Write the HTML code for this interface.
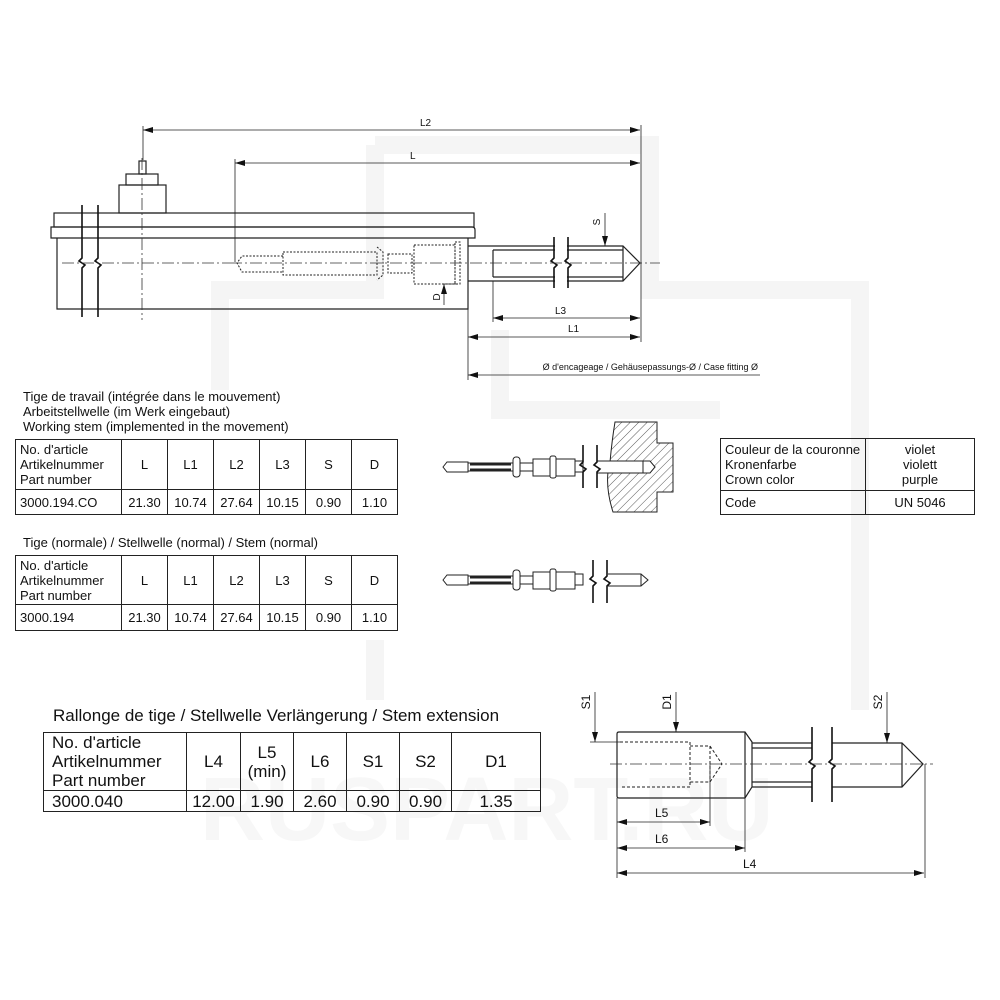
<!DOCTYPE html>
<html><head><meta charset="utf-8"><style>
body{margin:0;width:1000px;height:1000px;background:#fff;position:relative;overflow:hidden;font-family:"Liberation Sans",Arial,sans-serif;color:#111}
.t{position:absolute;font-size:13px;line-height:15px;white-space:nowrap}
table{position:absolute;border-collapse:collapse;font-size:13px}
td{border:1.5px solid #222;padding:0;text-align:center;line-height:15px}
td.l{text-align:left;padding-left:4px}
.big{font-size:17px}
.big td{line-height:19px}
</style></head><body>
<svg width="1000" height="1000" style="position:absolute;left:0;top:0">
<defs>
<marker id="a" viewBox="0 0 10 6" refX="10" refY="3" markerWidth="10" markerHeight="6" orient="auto-start-reverse" markerUnits="userSpaceOnUse"><path d="M0,0L10,3L0,6z" fill="#111"/></marker>
<pattern id="h" width="6" height="6" patternUnits="userSpaceOnUse" patternTransform="rotate(45)"><line x1="0" y1="0" x2="0" y2="6" stroke="#333" stroke-width="0.8"/></pattern>
</defs>
<!-- watermark -->
<g fill="none" stroke="#f5f5f5" stroke-width="18">
<path d="M375,145 V290 H220 V390"/><path d="M375,145 H650 V290 H860 V710"/><path d="M500,330 V410 H720"/><path d="M375,640 V700"/>
</g>
<text x="200" y="840" font-size="90" font-weight="bold" fill="#f7f7f7" font-family="Liberation Sans">RUSPART.RU</text>
<g stroke="#222" stroke-width="1.2" fill="none">
<rect x="139" y="161" width="7" height="13"/>
<rect x="126" y="174" width="32" height="11"/>
<rect x="119" y="185" width="47" height="28"/>
<rect x="54" y="213" width="420" height="14"/>
<path d="M51,227 H472 Q475,227 475,230 V238 H51 Z"/>
<path d="M57,238 V309 H468 V238"/>
<line x1="493" y1="250" x2="493" y2="277"/>
<path d="M468,246 H623 L640,263 L623,281 H468"/>
<path d="M493,250 H623 M493,277 H623 M623,246 V281"/>
<g stroke-dasharray="2,1.5" stroke-width="1">
<path d="M283,256 H242 L237,263 L242,272 H283"/>
<rect x="283" y="252" width="94" height="23"/>
<path d="M377,247 L383,252 V275 L377,280"/>
<rect x="388" y="254" width="24" height="19"/>
<rect x="414" y="245" width="41" height="39"/>
<rect x="455" y="242" width="5" height="42"/>
</g>
</g>
<g stroke="#111" stroke-width="1.6" fill="none">
<path d="M82,205 V258 L79,261 L85,265 L82,268 V317"/>
<path d="M98,205 V258 L95,261 L101,265 L98,268 V317"/>
</g>
<rect x="555" y="238" width="12" height="50" fill="#fff"/>
<g stroke="#111" stroke-width="1.6" fill="none">
<path d="M554,237 V258 L551,261 L557,265 L554,268 V288"/>
<path d="M568,237 V258 L565,261 L571,265 L568,268 V288"/>
</g>
<g stroke="#333" stroke-width="0.8" fill="none" stroke-dasharray="12,3,2,3">
<line x1="230" y1="263" x2="660" y2="263"/><line x1="62" y1="263" x2="230" y2="263"/>
<line x1="142" y1="158" x2="142" y2="320"/>
</g>
<g stroke="#222" stroke-width="0.8" fill="none">
<line x1="143" y1="130" x2="640" y2="130" marker-start="url(#a)" marker-end="url(#a)"/>
<line x1="143" y1="126" x2="143" y2="160"/>
<line x1="235" y1="163" x2="640" y2="163" marker-start="url(#a)" marker-end="url(#a)"/>
<line x1="235" y1="159" x2="235" y2="262"/>
<line x1="641" y1="125" x2="641" y2="342"/>
<line x1="493" y1="318" x2="640" y2="318" marker-start="url(#a)" marker-end="url(#a)"/>
<line x1="493" y1="281" x2="493" y2="322"/>
<line x1="468" y1="337" x2="640" y2="337" marker-start="url(#a)" marker-end="url(#a)"/>
<line x1="468" y1="309" x2="468" y2="380"/>
<line x1="468" y1="375" x2="760" y2="375" marker-start="url(#a)"/>
<line x1="605" y1="213" x2="605" y2="246" marker-end="url(#a)"/>
<line x1="444" y1="305" x2="444" y2="284" marker-end="url(#a)"/>
<line x1="444" y1="284" x2="458" y2="284"/>
</g>
<g font-family="Liberation Sans" font-size="10" fill="#111">
<text x="420" y="126">L2</text><text x="410" y="159">L</text>
<text x="555" y="314">L3</text><text x="568" y="332">L1</text>
<text x="758" y="370" text-anchor="end" font-size="9">Ø d'encageage / Gehäusepassungs-Ø / Case fitting Ø</text>
<text transform="translate(600,222) rotate(-90)" text-anchor="middle">S</text>
<text transform="translate(440,297) rotate(-90)" text-anchor="middle">D</text>
</g>
<g id="st" stroke="#222" stroke-width="1" fill="#fff">
<path d="M443,467 L447,462 H468 V472 H447 Z"/>
<rect x="468" y="463" width="45" height="8"/>
<line x1="470" y1="464.5" x2="511" y2="464.5" stroke-width="2"/><line x1="470" y1="469.5" x2="511" y2="469.5" stroke-width="2"/>
<rect x="513" y="457" width="7" height="20" rx="3"/>
<rect x="520" y="463" width="13" height="8"/>
<rect x="533" y="459" width="17" height="17"/>
<rect x="550" y="456" width="6" height="22" rx="2"/>
<rect x="556" y="459" width="19" height="17"/>
<rect x="575" y="461" width="8" height="11"/>
</g>
<path d="M615,422 H657 V443 H673 V492 H657 V512 H613 Q606,490 608,472 H650 L655,467 L650,462 H610 Q612,440 615,422 Z" fill="url(#h)" stroke="#222" stroke-width="1"/>
<g stroke="#222" stroke-width="1" fill="#fff">
<path d="M597,461 H650 L655,467 L650,473 H597"/>
<line x1="643" y1="461" x2="643" y2="473"/>
</g>
<g stroke="#111" stroke-width="1.6" fill="none">
<path d="M583,445 V462 L580,465 L586,469 L583,472 V488"/>
<path d="M597,445 V462 L594,465 L600,469 L597,472 V488"/>
</g>
<use href="#st" transform="translate(0,113)"/>
<g stroke="#222" stroke-width="1" fill="#fff">
<path d="M608,574 H641 L648,580 L641,586 H608"/><line x1="641" y1="574" x2="641" y2="586"/>
</g>
<g stroke="#111" stroke-width="1.6" fill="none">
<path d="M593,560 V576 L590,579 L596,583 L593,586 V603"/>
<path d="M607,560 V576 L604,579 L610,583 L607,586 V603"/>
</g>
<g stroke="#222" stroke-width="1.2" fill="none">
<path d="M619,732 H745 L752,742 V787 L745,798 H619 Q617,798 617,796 V734 Q617,732 619,732 Z"/>
<line x1="745" y1="732" x2="745" y2="798"/>
<path d="M752,743 H812 M752,748 H812 M752,782 H812 M752,787 H812"/>
<path d="M832,743 H902 L923,764 L902,787 H832 M902,743 V787"/>
<g stroke-dasharray="3,2" stroke-width="1"><path d="M620,742 H690 V787 H620"/><path d="M690,746 H710 L722,764 L710,782 H690 M710,746 V782"/></g>
</g>
<g stroke="#111" stroke-width="1.6" fill="none">
<path d="M812,727 V759 L809,762 L815,766 L812,769 V802"/>
<path d="M832,727 V759 L829,762 L835,766 L832,769 V802"/>
</g>
<line x1="610" y1="764" x2="933" y2="764" stroke="#333" stroke-width="0.8" stroke-dasharray="12,3,2,3"/>
<g stroke="#222" stroke-width="0.8" fill="none">
<line x1="595" y1="692" x2="595" y2="742" marker-end="url(#a)"/><line x1="590" y1="742" x2="620" y2="742"/>
<line x1="676" y1="692" x2="676" y2="732" marker-end="url(#a)"/>
<line x1="887" y1="692" x2="887" y2="743" marker-end="url(#a)"/>
<line x1="617" y1="822" x2="710" y2="822" marker-start="url(#a)" marker-end="url(#a)"/>
<line x1="617" y1="848" x2="745" y2="848" marker-start="url(#a)" marker-end="url(#a)"/>
<line x1="617" y1="873" x2="924" y2="873" marker-start="url(#a)" marker-end="url(#a)"/>
<line x1="617" y1="798" x2="617" y2="878"/><line x1="710" y1="764" x2="710" y2="826"/>
<line x1="745" y1="798" x2="745" y2="852"/><line x1="925" y1="764" x2="925" y2="878"/>
</g>
<g font-family="Liberation Sans" font-size="12" fill="#111">
<text x="655" y="817">L5</text><text x="655" y="843">L6</text><text x="743" y="868">L4</text>
<text transform="translate(590,702) rotate(-90)" text-anchor="middle">S1</text>
<text transform="translate(671,702) rotate(-90)" text-anchor="middle">D1</text>
<text transform="translate(882,702) rotate(-90)" text-anchor="middle">S2</text>
</g>
</svg>

<div class="t" style="left:23px;top:389px">Tige de travail (intégrée dans le mouvement)<br>Arbeitstellwelle (im Werk eingebaut)<br>Working stem (implemented in the movement)</div>
<table style="left:15px;top:439px;width:383px">
<tr style="height:50px"><td class="l" style="width:101px">No. d'article<br>Artikelnummer<br>Part number</td><td style="width:45px">L</td><td style="width:45px">L1</td><td style="width:45px">L2</td><td style="width:45px">L3</td><td style="width:45px">S</td><td>D</td></tr>
<tr style="height:25px"><td class="l">3000.194.CO</td><td>21.30</td><td>10.74</td><td>27.64</td><td>10.15</td><td>0.90</td><td>1.10</td></tr>
</table>
<div class="t" style="left:23px;top:535px">Tige (normale) / Stellwelle (normal) / Stem (normal)</div>
<table style="left:15px;top:555px;width:383px">
<tr style="height:49px"><td class="l" style="width:101px">No. d'article<br>Artikelnummer<br>Part number</td><td style="width:45px">L</td><td style="width:45px">L1</td><td style="width:45px">L2</td><td style="width:45px">L3</td><td style="width:45px">S</td><td>D</td></tr>
<tr style="height:26px"><td class="l">3000.194</td><td>21.30</td><td>10.74</td><td>27.64</td><td>10.15</td><td>0.90</td><td>1.10</td></tr>
</table>
<table style="left:720px;top:438px;width:255px">
<tr style="height:52px"><td class="l" style="width:140px">Couleur de la couronne<br>Kronenfarbe<br>Crown color</td><td>violet<br>violett<br>purple</td></tr>
<tr style="height:24px"><td class="l">Code</td><td>UN 5046</td></tr>
</table>
<div class="t big" style="left:53px;top:706px;font-size:17px;line-height:20px">Rallonge de tige / Stellwelle Verlängerung / Stem extension</div>
<table class="big" style="left:43px;top:732px;width:498px">
<tr style="height:47px"><td class="l" style="width:134px;padding-left:8px">No. d'article<br>Artikelnummer<br>Part number</td><td style="width:53px">L4</td><td style="width:52px">L5<br>(min)</td><td style="width:52px">L6</td><td style="width:52px">S1</td><td style="width:51px">S2</td><td>D1</td></tr>
<tr style="height:21px"><td class="l" style="padding-left:8px">3000.040</td><td>12.00</td><td>1.90</td><td>2.60</td><td>0.90</td><td>0.90</td><td>1.35</td></tr>
</table>
</body></html>
